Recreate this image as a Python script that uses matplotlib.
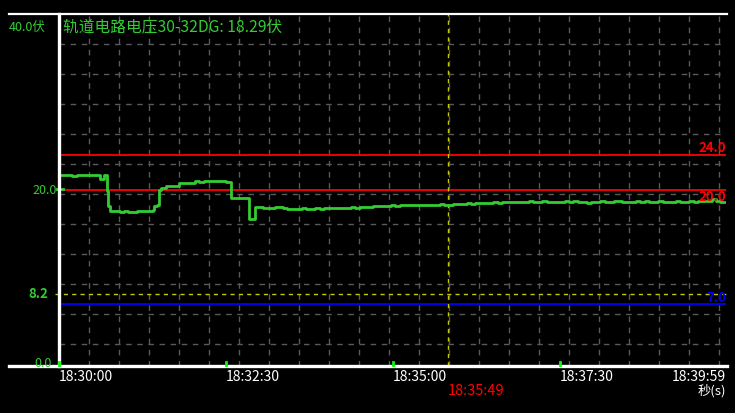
import matplotlib
matplotlib.use("Agg")
import matplotlib.pyplot as plt
from matplotlib.lines import Line2D

plt.rcParams['font.family'] = ['Noto Sans CJK SC', 'DejaVu Sans']

# ---- data ----
title_text = "轨道电路电压30-32DG: 18.29伏"
y_unit = "伏"
cursor_label = "18:35:49"
cursor_t = 349            # seconds after 18:30:00
x_tick_secs = [0, 150, 300, 450, 599]
x_tick_labels = ["18:30:00", "18:32:30", "18:35:00", "18:37:30", "18:39:59"]
upper_limit = 24.0
lower_limit = 20.0
yellow_level = 8.2
blue_level = 7.0
y_max = 40.0

times_a = [0, 4, 8, 12, 16, 20, 24, 28, 32, 36, 37, 39, 40, 42, 43.5, 44, 45.5,
           50, 55, 58, 62, 66, 70, 75, 80, 84, 85, 88, 90, 92, 96, 100, 104,
           108, 112, 117, 122, 126, 130, 135, 140, 145, 150, 154.5, 156, 160,
           164, 168, 170.5, 176, 180, 183, 187, 191, 194, 198, 201, 205]
values_a = [21.70, 21.65, 21.70, 21.62, 21.70, 21.66, 21.70, 21.70, 21.68, 21.72,
            21.25, 21.25, 21.65, 21.72, 19.90, 18.20, 17.56,
            17.56, 17.50, 17.60, 17.55, 17.52, 17.60, 17.62, 17.62, 17.70,
            18.20, 18.30, 20.00, 20.20, 20.45, 20.45, 20.45,
            20.80, 20.80, 20.85, 20.97, 20.92, 21.00, 20.97, 20.97, 21.00,
            20.93, 19.10, 19.05, 19.10, 19.08, 19.10, 16.76, 18.10, 18.05,
            17.92, 17.92, 17.95, 18.10, 18.10, 17.90, 17.84]

times_b = [210, 214, 218, 222, 226, 230, 234, 238, 242, 246, 250, 254, 258, 262,
           266, 270, 274, 278, 282, 286,
           290, 294, 298, 302, 306, 310, 314, 318, 322, 326, 330, 334, 338, 342,
           346, 350,
           354, 358, 362, 366, 370, 374, 378, 382, 386, 390, 394, 398,
           402, 406, 410, 414, 418, 422, 426, 430, 434, 438,
           442, 446, 450, 454, 458, 462, 466, 470, 474, 478,
           482, 486, 490, 494, 498, 502, 506, 510, 514, 518,
           522, 526, 530, 534, 538, 542, 546, 550, 554, 558,
           562, 566, 570, 574, 578, 582, 586, 590, 594, 598]
values_b = [17.88, 17.85, 17.90, 17.84, 17.88, 17.92, 17.86, 17.90, 17.95, 17.92,
            17.98, 17.95, 18.00, 18.05, 17.98, 18.05, 18.10, 18.08, 18.15, 18.20,
            18.18, 18.22, 18.25, 18.22, 18.28, 18.30, 18.25, 18.30, 18.33, 18.30,
            18.35, 18.30, 18.33, 18.36, 18.30, 18.35,
            18.42, 18.45, 18.40, 18.48, 18.45, 18.50, 18.55, 18.48, 18.52, 18.58,
            18.55, 18.60,
            18.62, 18.65, 18.60, 18.68, 18.65, 18.70, 18.62, 18.66, 18.70, 18.64,
            18.68, 18.58, 18.66, 18.70, 18.65, 18.72, 18.60, 18.66, 18.50, 18.64,
            18.68, 18.72, 18.66, 18.62, 18.70, 18.74, 18.66, 18.62, 18.68, 18.72,
            18.66, 18.70, 18.64, 18.68, 18.72, 18.66, 18.62, 18.68, 18.74, 18.66,
            18.62, 18.70, 18.64, 18.72, 18.80, 18.70, 18.95, 18.80, 18.68, 18.66]

times = times_a + times_b
values = values_a + values_b

# ---- figure ----
W, H = 735, 414
fig = plt.figure(figsize=(W / 100, H / 100), dpi=100, facecolor='black')
L, R, T, B = 59, 726, 15, 367
ax = fig.add_axes([L / W, 1 - B / H, (R - L) / W, (B - T) / H], facecolor='black')
ax.set_xlim(0, 599)
ax.set_ylim(0, y_max)
for s in ax.spines.values():
    s.set_visible(False)
ax.set_xticks([])
ax.set_yticks([])

px_x = (R - L) / 599.0
px_y = (B - T) / y_max
grid_kw = dict(color='#5a5a5a', lw=1, ls=(0, (4, 4)), zorder=1)
k = 1
while L + 30 * k < R:
    ax.axvline(30 * k / px_x, **grid_kw)
    k += 1
k = 1
while T + 30 * k < B:
    ax.axhline(y_max - 30 * k / px_y, **grid_kw)
    k += 1

green = '#33cc33'
ax.axhline(upper_limit, color='#ff0000', lw=1.3, zorder=2)
ax.axhline(lower_limit, color='#ff0000', lw=1.3, zorder=2)
ax.axhline(blue_level, color='#0000ff', lw=1.3, zorder=2)
ax.plot([-4 / px_x, 599], [yellow_level, yellow_level], color='#c8c800', lw=1,
        ls=(0, (3, 3)), zorder=2, clip_on=False)
ax.axvline(cursor_t, color='#c8c800', lw=1, ls=(0, (3, 3)), zorder=2)

ax.plot(times, values, color=green, lw=2, drawstyle='steps-post', zorder=4)

# marker on left axis
ax.plot([-2 / px_x, 4 / px_x], [20.1, 20.1], color=green, lw=2, clip_on=False, zorder=5)

# frame lines (figure coords)
def fline(x0, y0, x1, y1, color='white', lw=2.2):
    fig.add_artist(Line2D([x0 / W, x1 / W], [1 - y0 / H, 1 - y1 / H], color=color, lw=lw))

fline(9, T, 727, T, lw=1.6)
fline(9, B, 727, B, lw=2.4)
fline(L, T, L, B, lw=2.4)
for s in x_tick_secs[:-1]:
    xp = L + s * px_x
    fline(xp, 363, xp, B - 1, color='#00ff00', lw=2)

# text helpers
def ftext(x, y, s, **kw):
    fig.text(x / W, 1 - y / H, s, **kw)

ftext(63, 27, title_text, color=green, fontsize=11.3, va='center', ha='left')
ftext(9, 28, "40.0" + y_unit, color=green, fontsize=9, va='center', ha='left')
ftext(57, 191, "20.0", color=green, fontsize=9, va='center', ha='right')
ftext(48, 294, "8.2", color=green, fontsize=9.5, va='center', ha='right', fontweight='bold')
ftext(52, 364, "0.0", color=green, fontsize=9, va='center', ha='right')
ftext(726, 148, "%.1f" % upper_limit, color='#ff0000', fontsize=9.5, va='center', ha='right', fontweight='bold')
ftext(726, 197, "%.1f" % lower_limit, color='#ff0000', fontsize=9.5, va='center', ha='right', fontweight='bold')
ftext(726, 298, "%.1f" % blue_level, color='#0000ff', fontsize=9.5, va='center', ha='right', fontweight='bold')

for s, lab in zip(x_tick_secs, x_tick_labels):
    xp = L + s * px_x
    if s == x_tick_secs[-1]:
        ftext(726, 377, lab, color='white', fontsize=10, va='center', ha='right')
    else:
        ftext(xp, 377, lab, color='white', fontsize=10, va='center', ha='left')
ftext(L + cursor_t * px_x, 391, cursor_label, color='#ff0000', fontsize=10.5, va='center', ha='left')
ftext(726, 391, "秒(s)", color='white', fontsize=9.5, va='center', ha='right')

fig.savefig('out.png', dpi=100, facecolor='black')
